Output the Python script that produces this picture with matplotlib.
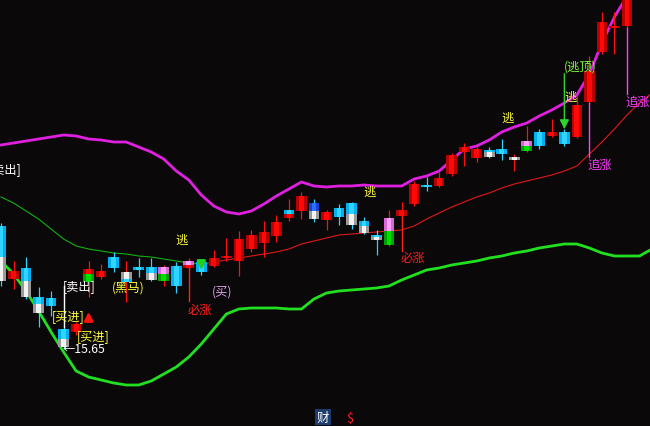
#Candlestick chart with band lines and signals

#Package imports
import numpy as np
import matplotlib.pyplot as plt

plt.rcParams['font.family'] = ['Noto Sans CJK SC', 'DejaVu Sans']

#Daily OHLC (price), one entry per bar
opens = [18.11, 17.05, 17.27, 16.69, 16.67, 16.05, 15.99, 16.99, 17.09, 17.49,
         17.19, 17.29, 17.29, 17.01, 17.31, 17.27, 17.39, 17.31, 17.47, 17.41,
         17.65, 17.77, 17.91, 18.27, 18.41, 18.57, 18.23, 18.47, 18.57, 18.21,
         17.93, 17.73, 18.31, 18.55, 18.93, 18.91, 19.15, 19.59, 19.47, 19.63,
         19.65, 19.49, 19.61, 19.99, 19.91, 19.99, 19.89, 20.59, 21.59, 22.07,
         22.11]
closes = [17.01, 17.21, 16.69, 16.37, 16.51, 15.69, 16.15, 17.25, 17.21, 17.27,
          16.99, 17.23, 17.03, 17.29, 16.91, 17.41, 17.19, 17.47, 17.51, 17.85,
          17.93, 17.99, 18.19, 18.43, 18.71, 18.25, 18.39, 18.29, 18.13, 17.97,
          17.83, 18.27, 18.43, 18.95, 18.89, 19.07, 19.53, 19.69, 19.65, 19.49,
          19.55, 19.43, 19.81, 19.71, 19.99, 19.75, 20.53, 21.21, 22.19, 22.11,
          22.75]
highs = [18.17, 17.41, 17.49, 16.89, 16.81, 16.09, 16.19, 17.41, 17.35, 17.59,
         17.41, 17.47, 17.47, 17.33, 17.39, 17.47, 17.41, 17.63, 17.87, 18.01,
         18.03, 18.21, 18.33, 18.65, 18.79, 18.65, 18.43, 18.55, 18.59, 18.29,
         18.03, 18.43, 18.59, 19.01, 19.09, 19.19, 19.57, 19.77, 19.69, 19.69,
         19.85, 19.55, 20.11, 20.05, 20.25, 20.05, 20.71, 21.51, 22.39, 22.39,
         22.85]
lows = [16.91, 16.85, 16.65, 16.09, 16.31, 15.65, 15.93, 16.69, 17.05, 17.19,
        16.59, 17.09, 17.01, 16.91, 16.77, 17.25, 17.13, 17.29, 17.41, 17.11,
        17.59, 17.49, 17.79, 18.21, 18.25, 18.19, 18.03, 18.13, 18.05, 17.95,
        17.53, 17.71, 18.25, 18.51, 18.81, 18.89, 19.11, 19.31, 19.39, 19.47,
        19.43, 19.21, 19.59, 19.65, 19.89, 19.71, 19.87, 20.57, 21.55, 21.55,
        22.07]

#Body colouring of each bar (upper part / lower part)
tones = ['cw', 'r', 'cw', 'cw', 'c', 'cw', 'r', 'rg', 'r', 'c',
         'wc', 'c', 'cw', 'pg', 'c', 'pr', 'c', 'r', 'r', 'r',
         'r', 'r', 'r', 'cr', 'r', 'bw', 'r', 'c', 'cw', 'cw',
         'cw', 'pg', 'r', 'r', 'c', 'r', 'r', 'r', 'r', 'cw',
         'c', 'w', 'pg', 'c', 'r', 'c', 'r', 'r', 'r', 'r',
         'r']
#Price where the two body colours meet
splits = {0: 17.49, 2: 17.01, 3: 16.55, 5: 15.85, 7: 17.15, 10: 17.05,
          12: 17.17, 13: 17.15, 15: 17.33, 23: 18.35, 25: 18.41, 28: 18.35,
          29: 18.11, 30: 17.89, 31: 18.01, 39: 19.59, 42: 19.71}

#Band lines (two more points than bars, they run to the right edge)
upper = [19.73, 19.77, 19.81, 19.85, 19.89, 19.93, 19.91, 19.85, 19.83, 19.79,
         19.79, 19.69, 19.59, 19.45, 19.21, 19.03, 18.73, 18.51, 18.39, 18.35,
         18.41, 18.55, 18.71, 18.85, 18.99, 18.91, 18.89, 18.91, 18.91, 18.93,
         18.91, 18.91, 18.91, 19.05, 19.11, 19.21, 19.43, 19.65, 19.71, 19.83,
         19.99, 20.09, 20.17, 20.31, 20.43, 20.57, 20.73, 21.15, 21.77, 22.29,
         22.71, 23.15, 23.55]
middle = [18.69, 18.57, 18.41, 18.25, 18.05, 17.85, 17.71, 17.65, 17.61, 17.57,
          17.55, 17.51, 17.49, 17.45, 17.41, 17.37, 17.35, 17.39, 17.43, 17.47,
          17.51, 17.55, 17.59, 17.65, 17.75, 17.81, 17.87, 17.93, 17.95, 17.97,
          17.99, 18.01, 18.03, 18.11, 18.25, 18.37, 18.49, 18.59, 18.69, 18.77,
          18.87, 18.95, 19.01, 19.07, 19.13, 19.21, 19.31, 19.55, 19.79, 20.05,
          20.33, 20.57, 20.77]
lower = [17.41, 17.15, 16.81, 16.41, 15.99, 15.59, 15.21, 15.09, 15.03, 14.97,
         14.93, 14.93, 15.01, 15.15, 15.29, 15.49, 15.75, 16.05, 16.35, 16.45,
         16.47, 16.47, 16.47, 16.45, 16.45, 16.65, 16.77, 16.81, 16.83, 16.85,
         16.87, 16.91, 17.03, 17.13, 17.23, 17.27, 17.33, 17.37, 17.41, 17.47,
         17.51, 17.57, 17.61, 17.67, 17.71, 17.75, 17.75, 17.67, 17.57, 17.51,
         17.51, 17.51, 17.65]

#Signal texts: (bar position, price, text, colour, alignment)
labels = [(1.6, 19.25, '[卖出]', 'white', 'right'),
          (4.95, 16.91, '[卖出]', 'white', 'left'),
          (4.07, 16.29, '[买进]', '#ffff40', 'left'),
          (6.07, 15.90, '[买进]', '#ffff40', 'left'),
          (4.95, 15.66, '←15.65', 'white', 'left'),
          (10.14, 16.89, '(黑马)', '#ffff40', 'center'),
          (14.38, 17.85, '逃', '#ffff40', 'center'),
          (15.9, 16.45, '必涨', '#ff2020', 'center'),
          (17.65, 16.81, '(买)', '#e0a8f0', 'center'),
          (29.47, 18.81, '逃', '#ffff40', 'center'),
          (32.9, 17.49, '必涨', '#ff2020', 'center'),
          (40.42, 20.29, '逃', '#ffff40', 'center'),
          (45.45, 20.71, '逃', '#ffff40', 'center'),
          (46.25, 21.31, '(逃顶)', '#80ff40', 'center'),
          (47.84, 19.35, '追涨', '#ff40ff', 'center'),
          (49.9, 20.61, '追涨', '#ff40ff', 'left')]

#Signal stems: (bar, from price, to price, colour)
stems = [(5, 16.09, 16.91, 'white'),
         (15, 17.27, 16.61, '#ff2020'),
         (32, 18.31, 17.61, '#ff2020'),
         (47, 20.57, 19.49, '#ff40ff'),
         (50, 22.07, 20.75, '#ff40ff')]

palette = {'r': ('#b80000', '#ff0808'), 'c': ('#00b0f0', '#30d4ff'),
           'w': ('#9a9a9a', '#f2f2f2'), 'g': ('#00a000', '#00e000'),
           'p': ('#d868d8', '#ffa0ff'), 'b': ('#1840d8', '#2a70ff')}

fig = plt.figure(figsize=(6.5, 4.27), dpi=100)
fig.patch.set_facecolor('#0a0808')
ax = fig.add_axes([0, 0, 1, 1])
ax.set_facecolor('#0a0808')

n = len(opens)
xs = np.arange(n)
W = 0.85

#Wicks
for i in range(n):
    wc = '#30d0ff' if tones[i] in ('c', 'cw', 'bw') else '#ff1010'
    ax.vlines(xs[i], lows[i], highs[i], color=wc, lw=0.9, zorder=3)

#Bodies
for i in range(n):
    top = max(opens[i], closes[i])
    bot = min(opens[i], closes[i])
    if top - bot < 0.03:
        top = bot + 0.03
    t = tones[i]
    up_c = t[0]
    lo_c = t[1] if len(t) > 1 else t[0]
    mid = splits.get(i, (top + bot) / 2)
    for c, b, h in ((up_c, mid, top - mid), (lo_c, bot, mid - bot)):
        if h <= 0:
            continue
        ax.bar(xs[i], h, bottom=b, width=W, color=palette[c][0], zorder=4)
        ax.bar(xs[i], h, bottom=b, width=W * 0.45, color=palette[c][1], zorder=5)

#Band lines
lx = np.arange(len(upper))
ax.plot(lx, upper, color='#e020e0', lw=2.0, zorder=2)
ax.plot(lx, lower, color='#20e020', lw=2.0, zorder=2)
ax.plot(lx[:17], middle[:17], color='#10b010', lw=0.8, zorder=2)
ax.plot(lx[16:], middle[16:], color='#e01818', lw=0.8, zorder=2)

#Signals
for b, p0, p1, c in stems:
    ax.plot([b, b], [p0, p1], color=c, lw=1.0, zorder=6)
for x, y, s, c, ha in labels:
    ax.text(x, y, s, color=c, fontsize=8.8, ha=ha, va='center', zorder=7)

ax.annotate('', xy=(7, 16.45), xytext=(7, 16.19),
            arrowprops=dict(arrowstyle='-|>', color='#ff1010', lw=2, mutation_scale=12), zorder=7)
ax.annotate('', xy=(16, 17.17), xytext=(16, 17.41),
            arrowprops=dict(arrowstyle='-|>', color='#20d020', lw=2, mutation_scale=12), zorder=7)
ax.annotate('', xy=(45, 19.99), xytext=(45, 21.21),
            arrowprops=dict(arrowstyle='-|>', color='#30d030', lw=1, mutation_scale=14), zorder=7)

ax.set_xlim(-0.08, 51.84)
ax.set_ylim(14.11, 22.65)
ax.axis('off')

fig.text(0.497, 0.021, '财', color='white', fontsize=9, ha='center', va='center',
         bbox=dict(facecolor='#1c3c70', edgecolor='none', pad=1))
fig.text(0.538, 0.021, '$', color='#ff2020', fontsize=9, ha='center', va='center')

plt.savefig('out.png', dpi=100, facecolor=fig.get_facecolor())
